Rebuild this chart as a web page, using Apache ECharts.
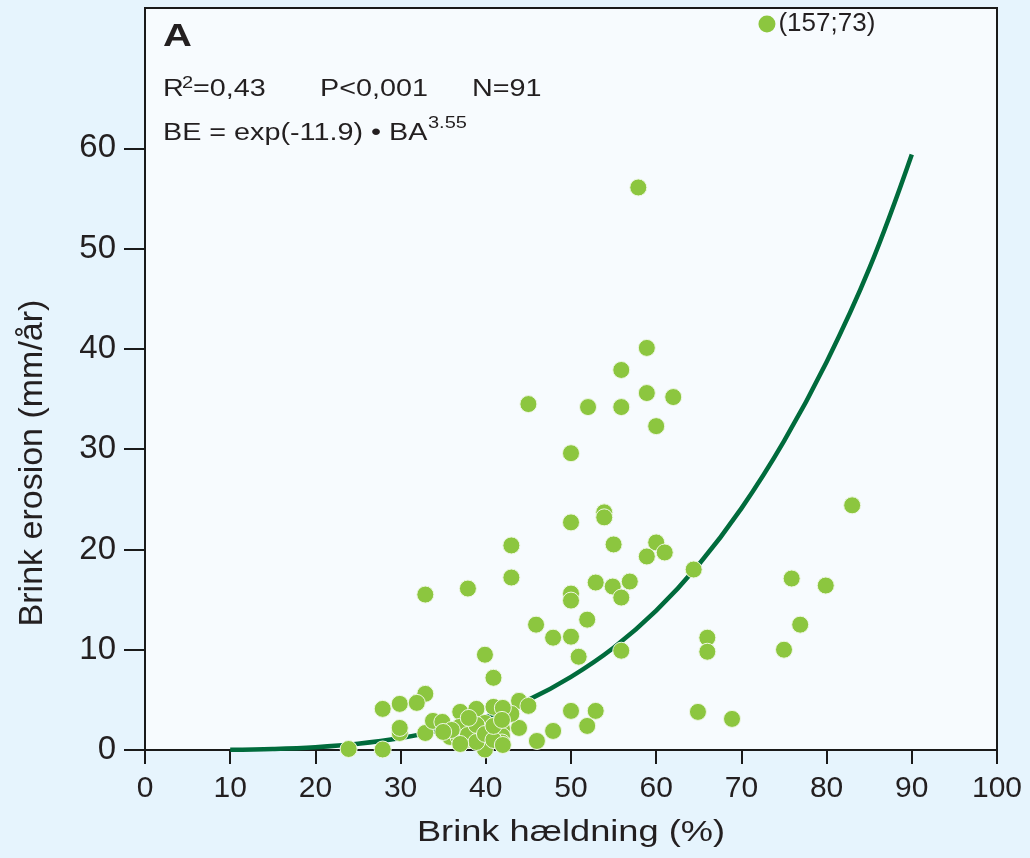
<!DOCTYPE html>
<html>
<head>
<meta charset="utf-8">
<script src="https://cdn.jsdelivr.net/npm/echarts@6/dist/echarts.min.js"></script>
<style>
  html, body { margin: 0; padding: 0; background: #e6f4fd; }
  #chart { width: 1030px; height: 858px; }
</style>
</head>
<body>
<div id="chart"></div>
<script>
// ---- data ----
const xTicks = [0, 10, 20, 30, 40, 50, 60, 70, 80, 90, 100];
const yTicks = [0, 10, 20, 30, 40, 50, 60];

// Brink hældning (%) of each observation
const slopeVals = [
  57.9, 58.9, 55.9, 58.9, 62.0, 55.9, 52.0, 45.0, 60.0, 50.0,
  53.9, 53.9, 50.0, 83.0, 43.0, 55.0, 60.0, 61.0, 58.9, 64.4,
  43.0, 52.9, 56.9, 54.9, 55.9, 37.9, 32.9, 50.0, 50.0, 75.9,
  79.9, 51.9, 45.9, 76.9, 47.9, 50.0, 66.0, 66.0, 55.9, 75.0,
  50.9, 39.9, 40.9, 64.9, 68.9, 50.0, 52.9, 51.9, 47.9, 46.0,
  43.9, 45.0, 43.9, 43.0, 32.9, 27.9, 29.9, 31.9, 23.9, 27.9,
  29.9, 29.9, 32.9, 33.8, 34.9, 35.8, 36.8, 37.0, 37.9, 37.8,
  38.9, 39.9, 39.9, 40.9, 42.0, 41.9, 41.9, 41.9, 36.9, 37.9,
  38.9, 38.9, 39.9, 40.9, 40.9, 41.9, 36.0, 38.0, 35.0, 42.0,
  37.0
];
// Brink erosion (mm/år) of each observation
const erosionVals = [
  56.1, 40.1, 37.9, 35.6, 35.2, 34.2, 34.2, 34.5, 32.3, 29.6,
  23.7, 23.2, 22.7, 24.4, 20.4, 20.5, 20.7, 19.7, 19.3, 18.0,
  17.2, 16.7, 16.8, 16.3, 15.2, 16.1, 15.5, 15.6, 14.9, 17.1,
  16.4, 13.0, 12.5, 12.5, 11.2, 11.3, 11.2, 9.8, 9.9, 10.0,
  9.3, 9.5, 7.2, 3.8, 3.1, 3.9, 3.9, 2.4, 1.9, 0.9,
  4.9, 4.4, 2.2, 3.6, 5.6, 4.1, 4.6, 4.7, 0.1, 0.05,
  1.7, 2.2, 1.7, 2.9, 2.8, 1.3, 1.3, 3.8, 2.0, 1.0,
  4.1, 2.7, 0.05, 4.3, 4.2, 2.1, 1.4, 0.75, 2.3, 1.5,
  2.5, 0.8, 1.6, 1.0, 2.4, 3.0, 2.0, 3.2, 1.8, 0.5,
  0.6
];

// off-scale observation, drawn at the top with its true values as label
const outlierX = [73];
const outlierY = [72.4];
const outlierLabel = '(157;73)';

// fitted curve BE = exp(-11.9)·BA^3.55
const curveX = [10, 15, 20, 25, 30, 35, 40, 45, 50, 55, 60, 65, 70, 75, 80, 85, 90];
const curveY = [0.02, 0.1, 0.28, 0.62, 1.19, 2.06, 3.3, 5.0, 7.3, 10.2, 13.9, 18.5, 24.1, 30.8, 38.7, 48.0, 59.4];

// ---- build ----
const FONT = '"Liberation Sans", Arial, Helvetica, sans-serif';
const TXT = '#231f20';
const SX = 1.25; // the reference lettering is drawn horizontally stretched

const scatterData = slopeVals.map((x, i) => [x, erosionVals[i]]);
const curveData = curveX.map((x, i) => [x, curveY[i]]);
const outlierData = outlierX.map((x, i) => [x, outlierY[i]]);

function txt(x, y, s, size, weight) {
  return {
    type: 'text', x: x, y: y, scaleX: SX, scaleY: 1,
    style: {
      text: s, font: (weight || 'normal') + ' ' + size + 'px ' + FONT,
      fill: TXT, align: 'left', verticalAlign: 'middle'
    },
    z: 10
  };
}

const chart = echarts.init(document.getElementById('chart'), null, { renderer: 'canvas' });

chart.setOption({
  backgroundColor: '#e6f4fd',
  animation: false,
  grid: {
    left: 145, right: 33, top: 8, bottom: 108,
    show: true,
    backgroundColor: '#f7fbfe',
    borderColor: '#1a1a1a',
    borderWidth: 2
  },
  xAxis: {
    type: 'value',
    min: 0, max: 100, interval: 10,
    axisLine: { onZero: false, lineStyle: { color: '#1a1a1a', width: 2 } },
    axisTick: { show: true, inside: false, length: 14, lineStyle: { color: '#1a1a1a', width: 2 } },
    axisLabel: {
      margin: 24, fontFamily: FONT, fontSize: 30, color: TXT,
      customValues: xTicks
    },
    splitLine: { show: false }
  },
  yAxis: {
    type: 'value',
    min: 0, max: 74, interval: 10,
    axisLine: { onZero: false, lineStyle: { color: '#1a1a1a', width: 2 } },
    axisTick: { show: true, inside: false, length: 21, lineStyle: { color: '#1a1a1a', width: 2 }, customValues: yTicks },
    axisLabel: {
      margin: 29, fontFamily: FONT, fontSize: 33, color: TXT,
      customValues: yTicks
    },
    splitLine: { show: false }
  },
  graphic: [
    {
      type: 'text', x: 571, y: 833, scaleX: SX, scaleY: 1,
      style: { text: 'Brink hældning (%)', font: '29px ' + FONT, fill: TXT, align: 'center', verticalAlign: 'middle' }
    },
    {
      type: 'text', x: 33, y: 463, rotation: Math.PI / 2,
      style: { text: 'Brink erosion (mm/år)', font: '34px ' + FONT, fill: TXT, align: 'center', verticalAlign: 'middle' }
    },
    txt(163, 37, 'A', 32, 'bold'),
    txt(163, 90, 'R', 23),
    txt(182, 84, '2', 16),
    txt(193, 90, '=0,43', 23),
    txt(320, 90, 'P<0,001', 23),
    txt(472, 90, 'N=91', 23),
    txt(163, 134, 'BE = exp(-11.9) • BA', 23),
    txt(428, 124, '3.55', 16)
  ],
  series: [
    {
      type: 'line',
      name: 'fit',
      data: curveData,
      smooth: 0.4,
      showSymbol: false,
      lineStyle: { color: '#006b3c', width: 4.5 },
      z: 2
    },
    {
      type: 'scatter',
      name: 'obs',
      data: scatterData,
      symbolSize: 17,
      itemStyle: { color: '#8cc63f', borderColor: '#eef7e4', borderWidth: 1, opacity: 1 },
      z: 3
    },
    {
      type: 'scatter',
      name: 'outlier',
      data: outlierData,
      symbolSize: 17,
      itemStyle: { color: '#8cc63f', opacity: 1 },
      label: {
        show: true, position: 'right', distance: 3,
        formatter: () => outlierLabel,
        fontFamily: FONT, fontSize: 26, color: TXT
      },
      z: 3
    }
  ]
});
</script>
</body>
</html>
